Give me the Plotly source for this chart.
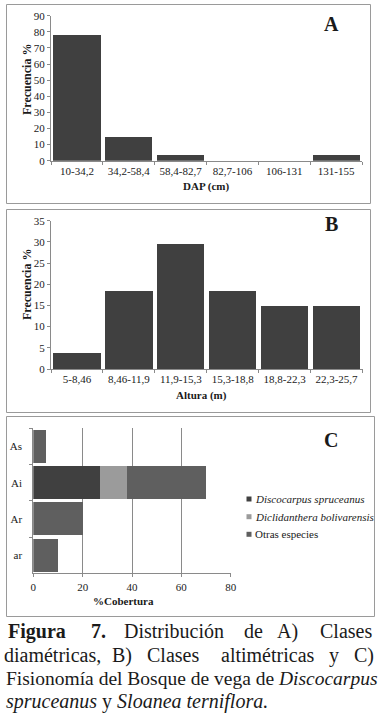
import plotly.graph_objects as go

W, H = 384, 726

# ---- data ----
dap_classes = ["10-34,2", "34,2-58,4", "58,4-82,7", "82,7-106", "106-131", "131-155"]
dap_freq = [77.8, 14.8, 3.7, 0, 0, 3.7]

alt_classes = ["5-8,46", "8,46-11,9", "11,9-15,3", "15,3-18,8", "18,8-22,3", "22,3-25,7"]
alt_freq = [3.7, 18.5, 29.6, 18.5, 14.8, 14.8]

strata = ["As", "Ai", "Ar", "ar"]
cov_discocarpus = [0, 27, 0, 0]
cov_diclidanthera = [0, 11, 0, 0]
cov_otras = [5, 32, 20, 10]
species = ["Discocarpus spruceanus", "Diclidanthera bolivarensis", "Otras especies"]

FONT = "Liberation Serif"
BAR = "#404040"
COL_C = ["#404040", "#9b9b9b", "#5f5f5f"]
AX = "#8a8a8a"
TXT = "#1a1a1a"


def px(x):
    return x / W


def py(y):
    return 1 - y / H


fig = go.Figure()

fig.add_trace(go.Bar(x=dap_classes, y=dap_freq, marker_color=BAR, marker_line_width=0,
                     xaxis="x", yaxis="y", showlegend=False))
fig.add_trace(go.Bar(x=alt_classes, y=alt_freq, marker_color=BAR, marker_line_width=0,
                     xaxis="x2", yaxis="y2", showlegend=False))
for name, vals, col in zip(species, [cov_discocarpus, cov_diclidanthera, cov_otras], COL_C):
    fig.add_trace(go.Bar(y=strata, x=vals, orientation="h", marker_color=col,
                         marker_line_width=0, name=name, xaxis="x3", yaxis="y3",
                         showlegend=False))

tickfont = dict(family=FONT, size=11, color=TXT)
common_cat = dict(type="category", showline=True, linecolor=AX, linewidth=1,
                  ticks="outside", ticklen=3, tickcolor=AX, tickson="boundaries",
                  tickfont=tickfont, showgrid=False, zeroline=False, fixedrange=True,
                  automargin=False, tickangle=0)
common_lin = dict(showline=True, linecolor=AX, linewidth=1, ticks="outside", ticklen=3,
                  tickcolor=AX, tickfont=tickfont, zeroline=False, fixedrange=True,
                  automargin=False, tickangle=0)

fig.update_layout(
    width=W, height=H,
    margin=dict(l=0, r=0, t=0, b=0),
    paper_bgcolor="white", plot_bgcolor="white",
    barmode="stack", bargap=0.09,
    font=dict(family=FONT, color=TXT),
    xaxis=dict(domain=[px(51), px(362)], anchor="y", **common_cat),
    yaxis=dict(domain=[py(160.7), py(15.7)], anchor="x", range=[0, 90], dtick=10,
               showgrid=False, **common_lin),
    xaxis2=dict(domain=[px(51), px(362.5)], anchor="y2", **common_cat),
    yaxis2=dict(domain=[py(369), py(220.7)], anchor="x2", range=[0, 35], dtick=5,
                showgrid=False, **common_lin),
    xaxis3=dict(domain=[px(33.3), px(230.7)], anchor="y3", range=[0, 80], dtick=20,
                showgrid=True, gridcolor=AX, gridwidth=1, **common_lin),
    yaxis3=dict(domain=[py(573.3), py(428.3)], anchor="x3", categoryorder="array",
                categoryarray=strata[::-1], ticklabelstandoff=8, **common_cat),
)

shapes = []
# panel frames
for (x0, y0, x1, y1) in [(6.5, 4.5, 370.5, 203.5), (6.5, 209.5, 370.5, 412.5), (6.5, 416.5, 374.5, 616.5)]:
    shapes.append(dict(type="rect", xref="paper", yref="paper", x0=px(x0), x1=px(x1),
                       y0=py(y1), y1=py(y0), line=dict(color="#9a9a9a", width=1),
                       fillcolor="rgba(0,0,0,0)", layer="below"))
# legend swatches
leg_y = [499, 516.7, 534.3]
for yy, col in zip(leg_y, COL_C):
    shapes.append(dict(type="rect", xref="paper", yref="paper", x0=px(246.5), x1=px(251.5),
                       y0=py(yy + 2.5), y1=py(yy - 2.5), line=dict(width=0), fillcolor=col))

ann = []


def A(x, y, text, size=11, bold=False, italic=False, angle=0, anchor="center"):
    t = text
    if italic:
        t = "<i>" + t + "</i>"
    if bold:
        t = "<b>" + t + "</b>"
    ann.append(dict(xref="paper", yref="paper", x=px(x), y=py(y), text=t, showarrow=False,
                    xanchor=anchor, yanchor="middle", textangle=angle,
                    font=dict(family=FONT, size=size, color=TXT)))


# axis titles
A(27, 80, "Frecuencia %", size=12, bold=True, angle=-90)
A(206, 186.7, "DAP (cm)", bold=True)
A(27, 285, "Frecuencia %", size=12, bold=True, angle=-90)
A(201.5, 395, "Altura (m)", bold=True)
A(123, 600.7, "%Cobertura", bold=True)
# panel letters
A(331, 24, "A", size=20, bold=True)
A(331, 224, "B", size=20, bold=True)
A(331, 440, "C", size=20, bold=True)
# legend
A(253, leg_y[0], species[0], italic=True, anchor="left")
A(253, leg_y[1], species[1], italic=True, anchor="left")
A(253, leg_y[2], species[2], anchor="left")

# caption: justified lines placed word by word, others as whole lines
CS = 20
just_lines = [
    (638, [("Figura", 37, "b"), ("7.", 98, "b"), ("Distribución", 173.5, ""), ("de", 253, ""),
           ("A)", 287.5, ""), ("Clases", 346, "")]),
    (662, [("diamétricas,", 52, ""), ("B)", 122, ""), ("Clases", 172.5, ""),
           ("altimétricas", 268, ""), ("y", 334, ""), ("C)", 364, "")]),
]
for base, words in just_lines:
    for w, cx, st in words:
        A(cx, base - 0.34 * CS, w, size=CS, bold=(st == "b"), italic=(st == "i"))

A(4, 685 - 0.34 * 19.5, "Fisionomía del Bosque de vega de <i>Discocarpus</i>", size=19.5,
  anchor="left")
A(4, 708 - 0.34 * CS, "<i>spruceanus</i> y <i>Sloanea terniflora.</i>", size=CS, anchor="left")

fig.update_layout(shapes=shapes, annotations=ann)
fig.write_html("out.html", config={"displayModeBar": False},
               post_script="document.body.style.margin='0px';")
